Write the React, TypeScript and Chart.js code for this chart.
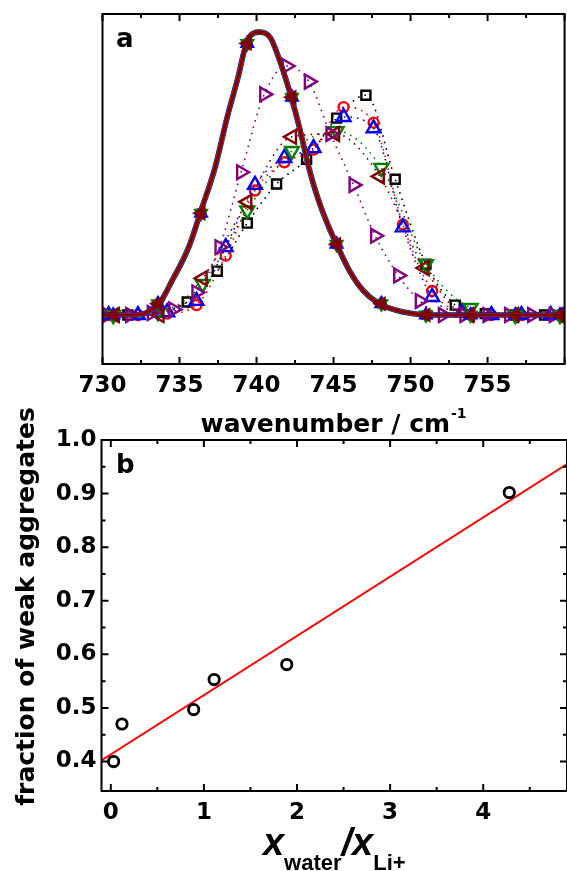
import React, { useEffect, useRef } from "react";
import { Chart, registerables } from "chart.js";

Chart.register(...registerables);

const WIDE = '"DejaVu Sans", sans-serif';
const ARIAL = '"Liberation Sans", Arial, sans-serif';

// ---------------- Panel a : spectra ----------------
const A_X_MIN = 730;
const A_X_MAX = 760;
const A_Y_MIN = -0.173;
const A_Y_MAX = 1.064;
const A_X_TICKS = [730, 735, 740, 745, 750, 755, 760];
const A_X_LABELS = ["730", "735", "740", "745", "750", "755", ""];
const A_X_MINOR = [732.5, 737.5, 742.5, 747.5, 752.5, 757.5];

// solid (fitted) curve shared by the solid series
const CURVE_WN = [730, 731, 732, 732.8, 733.7, 734.5, 735.6, 736.4, 737.3, 738.1, 738.8, 739.4, 740.2, 740.9, 741.5, 742.2, 742.8, 743.4, 744.0, 744.7, 745.2, 746.0, 746.9, 747.9, 749.0, 750.0, 751.1, 753, 756, 760];
const CURVE_ABS = [0, 0, 0, 0.007, 0.042, 0.12, 0.24, 0.37, 0.52, 0.7, 0.84, 0.97, 1.0, 0.98, 0.9, 0.78, 0.66, 0.52, 0.41, 0.31, 0.25, 0.16, 0.088, 0.042, 0.018, 0.006, 0, 0, 0, 0];

// filled markers on the solid curves
const SOLID_MARK_WN = [730.7, 733.6, 736.4, 739.4, 742.3, 745.2, 748.1, 751.0, 753.9, 756.8, 759.7];
const SOLID_MARK_ABS = [0, 0.04, 0.36, 0.96, 0.77, 0.25, 0.04, 0, 0, 0, 0];

// dotted series (open markers)
const BLACK_WN = [731.65, 733.6, 735.5, 737.45, 739.4, 741.3, 743.25, 745.2, 747.1, 749.0, 751.0, 752.9, 754.85, 756.8, 758.7];
const BLACK_ABS = [0, 0.01, 0.046, 0.155, 0.325, 0.463, 0.551, 0.696, 0.777, 0.48, 0.18, 0.035, 0.005, 0, 0];

const RED_WN = [730.4, 732.3, 734.2, 736.1, 738.0, 739.9, 741.8, 743.7, 745.65, 747.6, 749.5, 751.4, 753.35, 755.25, 757.2, 759.1];
const RED_ABS = [0, 0, 0.005, 0.035, 0.21, 0.44, 0.54, 0.585, 0.735, 0.68, 0.32, 0.085, 0.01, 0, 0, 0];

const BLUE_WN = [730.4, 732.3, 734.2, 736.1, 738.0, 739.9, 741.8, 743.7, 745.65, 747.6, 749.5, 751.4, 753.35, 755.25, 757.2, 759.1];
const BLUE_ABS = [0, 0, 0.01, 0.05, 0.24, 0.46, 0.555, 0.59, 0.7, 0.66, 0.31, 0.064, 0.01, 0, 0, 0];

const GREEN_WN = [730.7, 733.6, 736.5, 739.4, 742.3, 745.2, 748.1, 751.0, 753.9, 756.8, 759.7];
const GREEN_ABS = [0, 0.01, 0.11, 0.37, 0.58, 0.65, 0.52, 0.18, 0.025, 0, 0];

const DKRED_WN = [730.8, 733.7, 736.5, 739.4, 742.3, 745.1, 748.0, 750.9, 753.8, 756.7, 759.6];
const DKRED_ABS = [0, 0, 0.13, 0.4, 0.63, 0.64, 0.49, 0.166, 0, 0, 0];

const PURPLE_WN = [730.3, 731.8, 733.2, 734.6, 736.1, 737.6, 739.0, 740.5, 741.95, 743.4, 744.8, 746.3, 747.7, 749.2, 750.6, 752.1, 753.5, 755.0, 756.4, 757.9, 759.3];
const PURPLE_ABS = [0, 0, 0.007, 0.02, 0.08, 0.24, 0.505, 0.78, 0.88, 0.825, 0.64, 0.46, 0.28, 0.14, 0.05, 0, 0, 0, 0, 0, 0];

// ---------------- Panel b : fraction ----------------
const B_X_MIN = -0.1;
const B_X_MAX = 4.9;
const B_Y_MIN = 0.345;
const B_Y_MAX = 1.0;
const B_X_TICKS = [0, 1, 2, 3, 4];
const B_X_MINOR = [0.5, 1.5, 2.5, 3.5, 4.5];
const B_Y_TICKS = [0.4, 0.5, 0.6, 0.7, 0.8, 0.9, 1.0];
const B_Y_LABELS = ["0.4", "0.5", "0.6", "0.7", "0.8", "0.9", "1.0"];
const B_Y_MINOR = [0.45, 0.55, 0.65, 0.75, 0.85, 0.95];

const RATIO = [0.03, 0.12, 0.89, 1.11, 1.89, 4.28];
const FRACTION = [0.4, 0.47, 0.497, 0.553, 0.581, 0.902];
const LINE_X = [-0.11, 4.9];
const LINE_Y = [0.401, 0.955];

const pts = (xs: number[], ys: number[]) => xs.map((x, i) => ({ x, y: ys[i] }));

type CA = { left: number; right: number; top: number; bottom: number };

function drawFrame(ctx: CanvasRenderingContext2D, ca: CA) {
  ctx.strokeStyle = "#000";
  ctx.lineWidth = 2;
  ctx.strokeRect(ca.left, ca.top, ca.right - ca.left, ca.bottom - ca.top);
}

function drawXTicks(ctx: CanvasRenderingContext2D, sx: any, ca: CA, majors: number[], minors: number[]) {
  ctx.beginPath();
  const sets: [number[], number][] = [[majors, 7], [minors, 4]];
  for (const [vals, len] of sets) {
    for (const v of vals) {
      const p = sx.getPixelForValue(v);
      if (p < ca.left - 0.5 || p > ca.right + 0.5) continue;
      ctx.moveTo(p, ca.bottom);
      ctx.lineTo(p, ca.bottom - len);
      ctx.moveTo(p, ca.top);
      ctx.lineTo(p, ca.top + len);
    }
  }
  ctx.lineWidth = 2;
  ctx.stroke();
}

function drawYTicks(ctx: CanvasRenderingContext2D, sy: any, ca: CA, majors: number[], minors: number[]) {
  ctx.beginPath();
  const sets: [number[], number][] = [[majors, 7], [minors, 4]];
  for (const [vals, len] of sets) {
    for (const v of vals) {
      const p = sy.getPixelForValue(v);
      if (p < ca.top - 0.5 || p > ca.bottom + 0.5) continue;
      ctx.moveTo(ca.left, p);
      ctx.lineTo(ca.left + len, p);
      ctx.moveTo(ca.right, p);
      ctx.lineTo(ca.right - len, p);
    }
  }
  ctx.lineWidth = 2;
  ctx.stroke();
}

const tickFont = { family: WIDE, weight: "bold" as const, size: 23 };

function topConfig(): any {
  const solidLine = (color: string, width: number) => ({
    data: pts(CURVE_WN, CURVE_ABS),
    showLine: true,
    borderColor: color,
    borderWidth: width,
    pointRadius: 0,
    cubicInterpolationMode: "monotone",
  });
  const solidMarks = (color: string, style: string, rot: number, r: number) => ({
    data: pts(SOLID_MARK_WN, SOLID_MARK_ABS),
    showLine: false,
    pointStyle: style,
    rotation: rot,
    pointRadius: r,
    pointBorderWidth: 1.5,
    pointBorderColor: color,
    pointBackgroundColor: color,
  });
  const dotted = (xs: number[], ys: number[], color: string, style: string, rot: number, r: number) => ({
    data: pts(xs, ys),
    showLine: true,
    borderColor: color,
    borderWidth: 1.6,
    borderDash: [1.6, 5],
    cubicInterpolationMode: "monotone",
    pointStyle: style,
    rotation: rot,
    pointRadius: r,
    pointBorderWidth: 2.4,
    pointBorderColor: color,
    pointBackgroundColor: "rgba(0,0,0,0)",
  });

  const deco = {
    id: "decoA",
    afterDraw(chart: any) {
      const { ctx, chartArea: ca, scales } = chart;
      ctx.save();
      drawFrame(ctx, ca);
      drawXTicks(ctx, scales.x, ca, A_X_TICKS, A_X_MINOR);
      ctx.fillStyle = "#000";
      ctx.textBaseline = "alphabetic";
      ctx.textAlign = "left";
      // panel letter
      ctx.font = `bold 26px ${WIDE}`;
      ctx.fillText("a", 116, 47);
      // axis title
      const main = "wavenumber / cm";
      const sup = "-1";
      ctx.font = `bold 25px ${WIDE}`;
      const wm = ctx.measureText(main).width;
      ctx.font = `bold 14px ${WIDE}`;
      const ws = ctx.measureText(sup).width;
      const cx = (ca.left + ca.right) / 2;
      const x0 = cx - (wm + ws + 1) / 2;
      ctx.font = `bold 25px ${WIDE}`;
      ctx.fillText(main, x0, 432);
      ctx.font = `bold 14px ${WIDE}`;
      ctx.fillText(sup, x0 + wm + 1, 418);
      ctx.restore();
    },
  };

  return {
    type: "scatter",
    data: {
      datasets: [
        solidMarks("#800000", "triangle", 270, 7.5),
        solidLine("#800000", 3),
        solidLine("#FF0000", 3.8),
        solidLine("#008000", 4.6),
        solidLine("#0000FF", 5.6),
        solidMarks("#008000", "triangle", 180, 7.5),
        solidMarks("#0000FF", "triangle", 0, 7.5),
        solidMarks("#FF0000", "circle", 0, 5),
        solidMarks("#000000", "rect", 0, 5.5),
        dotted(PURPLE_WN, PURPLE_ABS, "#800080", "triangle", 90, 8),
        dotted(DKRED_WN, DKRED_ABS, "#800000", "triangle", 270, 8),
        dotted(GREEN_WN, GREEN_ABS, "#008000", "triangle", 180, 8),
        dotted(BLUE_WN, BLUE_ABS, "#0000FF", "triangle", 0, 8),
        dotted(RED_WN, RED_ABS, "#FF0000", "circle", 0, 5),
        dotted(BLACK_WN, BLACK_ABS, "#000000", "rect", 0, 6.4),
      ],
    },
    options: {
      responsive: false,
      animation: false,
      devicePixelRatio: 1,
      events: [],
      layout: { padding: { top: 14, right: 2.5, left: 0, bottom: 0 } },
      plugins: { legend: { display: false }, tooltip: { enabled: false } },
      scales: {
        x: {
          type: "linear",
          min: A_X_MIN,
          max: A_X_MAX,
          grid: { display: false, drawTicks: false },
          border: { display: false },
          afterBuildTicks: (s: any) => {
            s.ticks = A_X_TICKS.map((v) => ({ value: v }));
          },
          ticks: {
            color: "#000",
            font: tickFont,
            padding: 8,
            maxRotation: 0,
            autoSkip: false,
            callback: (v: number) => {
              const i = A_X_TICKS.indexOf(v);
              return i >= 0 ? A_X_LABELS[i] : "";
            },
          },
          afterFit: (s: any) => {
            s.height = 76;
          },
        },
        y: {
          type: "linear",
          min: A_Y_MIN,
          max: A_Y_MAX,
          grid: { display: false, drawTicks: false },
          border: { display: false },
          ticks: { display: false },
          afterFit: (s: any) => {
            s.width = 102.5;
          },
        },
      },
    },
    plugins: [deco],
  };
}

function bottomConfig(): any {
  const OFF = 400;
  const deco = {
    id: "decoB",
    afterDraw(chart: any) {
      const { ctx, chartArea: ca, scales } = chart;
      ctx.save();
      drawFrame(ctx, ca);
      drawXTicks(ctx, scales.x, ca, B_X_TICKS, B_X_MINOR);
      drawYTicks(ctx, scales.y, ca, B_Y_TICKS, B_Y_MINOR);
      ctx.fillStyle = "#000";
      ctx.textBaseline = "alphabetic";
      ctx.textAlign = "left";
      ctx.font = `bold 26px ${WIDE}`;
      ctx.fillText("b", 116, 473 - OFF);
      // y title
      ctx.save();
      ctx.translate(34, 606.5 - OFF);
      ctx.rotate(-Math.PI / 2);
      ctx.textAlign = "center";
      ctx.font = `bold 25px ${WIDE}`;
      ctx.fillText("fraction of weak aggregates", 0, 0);
      ctx.restore();
      // x title: x_water / x_Li+
      const big = `italic bold 38px ${ARIAL}`;
      const small = `bold 22px ${ARIAL}`;
      const parts: [string, string, number][] = [
        ["x", big, 0],
        ["water", small, 15],
        ["/", big, 0],
        ["x", big, 0],
        ["Li+", small, 15],
      ];
      let total = 0;
      const widths = parts.map(([t, f]) => {
        ctx.font = f;
        const w = ctx.measureText(t).width;
        total += w;
        return w;
      });
      let x = (ca.left + ca.right) / 2 - total / 2;
      const base = 855 - OFF;
      parts.forEach(([t, f, dy], i) => {
        ctx.font = f;
        ctx.fillText(t, x, base + dy);
        x += widths[i];
      });
      ctx.restore();
    },
  };

  return {
    type: "scatter",
    data: {
      datasets: [
        {
          data: pts(RATIO, FRACTION),
          showLine: false,
          pointStyle: "circle",
          pointRadius: 5.2,
          pointBorderWidth: 2.8,
          pointBorderColor: "#000",
          pointBackgroundColor: "rgba(0,0,0,0)",
        },
        {
          data: pts(LINE_X, LINE_Y),
          showLine: true,
          borderColor: "#FF0000",
          borderWidth: 2,
          pointRadius: 0,
        },
      ],
    },
    options: {
      responsive: false,
      animation: false,
      devicePixelRatio: 1,
      events: [],
      layout: { padding: { top: 40, right: 2.5, left: 0, bottom: 0 } },
      plugins: { legend: { display: false }, tooltip: { enabled: false } },
      scales: {
        x: {
          type: "linear",
          min: B_X_MIN,
          max: B_X_MAX,
          grid: { display: false, drawTicks: false },
          border: { display: false },
          afterBuildTicks: (s: any) => {
            s.ticks = B_X_TICKS.map((v) => ({ value: v }));
          },
          ticks: {
            color: "#000",
            font: tickFont,
            padding: 8,
            maxRotation: 0,
            autoSkip: false,
            callback: (v: number) => String(v),
          },
          afterFit: (s: any) => {
            s.height = 80;
          },
        },
        y: {
          type: "linear",
          min: B_Y_MIN,
          max: B_Y_MAX,
          grid: { display: false, drawTicks: false },
          border: { display: false },
          afterBuildTicks: (s: any) => {
            s.ticks = B_Y_TICKS.map((v) => ({ value: v }));
          },
          ticks: {
            color: "#000",
            font: tickFont,
            padding: 5,
            autoSkip: false,
            callback: (v: number) => {
              const i = B_Y_TICKS.findIndex((t) => Math.abs(t - v) < 1e-9);
              return i >= 0 ? B_Y_LABELS[i] : "";
            },
          },
          afterFit: (s: any) => {
            s.width = 101.5;
          },
        },
      },
    },
    plugins: [deco],
  };
}

export default function App() {
  const topRef = useRef<HTMLCanvasElement>(null);
  const botRef = useRef<HTMLCanvasElement>(null);

  useEffect(() => {
    const c1 = new Chart(topRef.current as HTMLCanvasElement, topConfig());
    const c2 = new Chart(botRef.current as HTMLCanvasElement, bottomConfig());
    return () => {
      c1.destroy();
      c2.destroy();
    };
  }, []);

  return (
    <div
      style={{
        position: "absolute",
        left: 0,
        top: 0,
        width: 567,
        height: 871,
        overflow: "hidden",
        background: "#fff",
      }}
    >
      <canvas
        ref={topRef}
        width={575}
        height={440}
        style={{ position: "absolute", left: 0, top: 0, width: 575, height: 440 }}
      />
      <canvas
        ref={botRef}
        width={575}
        height={471}
        style={{ position: "absolute", left: 0, top: 400, width: 575, height: 471 }}
      />
    </div>
  );
}
